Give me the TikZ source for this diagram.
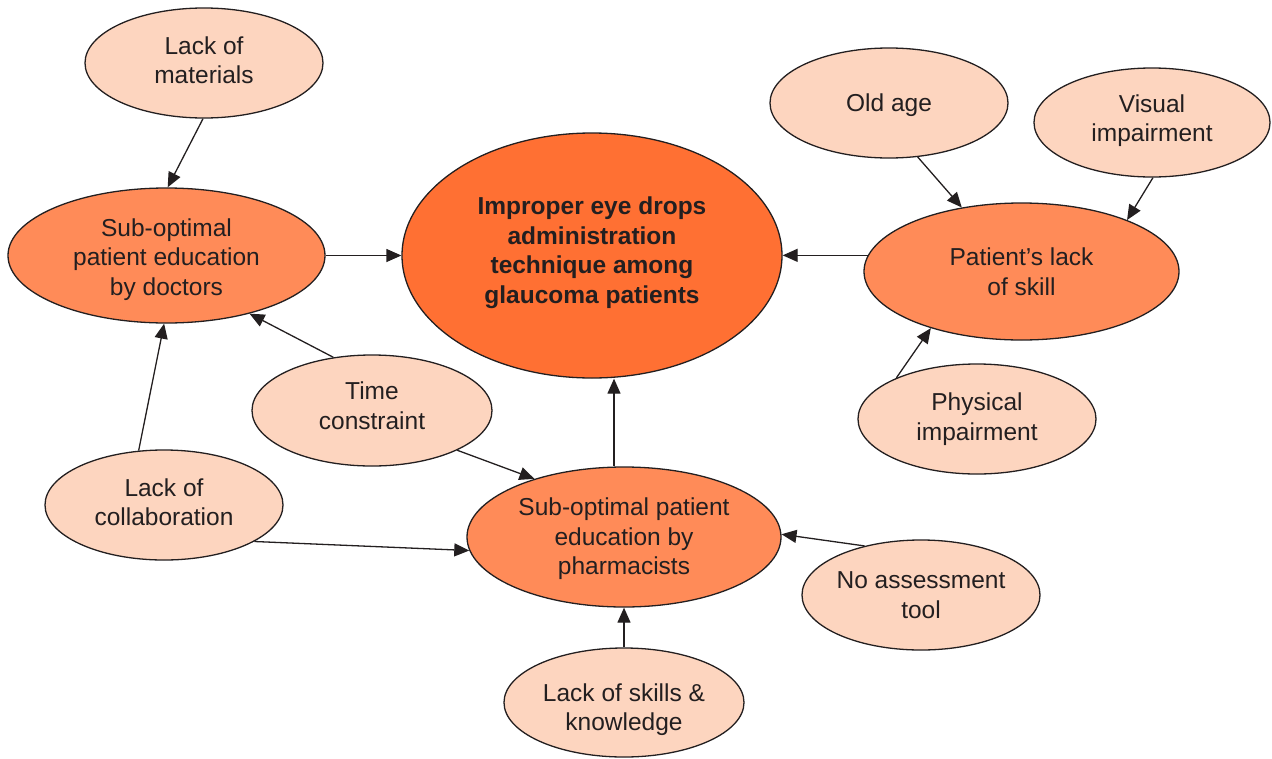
\documentclass[tikz,border=0pt]{standalone}
\usepackage{fontspec}
\setmainfont{Liberation Sans}
\usetikzlibrary{shapes.geometric,arrows.meta}
\definecolor{inkc}{HTML}{231F20}
\definecolor{lightfill}{HTML}{FDD5BF}
\definecolor{midfill}{HTML}{FF8B58}
\definecolor{corefill}{HTML}{FF7033}
\tikzset{
  bubble/.style={ellipse, draw=inkc, line width=1.3pt, inner sep=0pt},
  cause/.style={bubble, fill=lightfill},
  factor/.style={bubble, fill=midfill},
  core/.style={bubble, fill=corefill},
  txt/.style={align=center, text=inkc, font=\fontsize{24.5}{29.5}\selectfont},
  boldtxt/.style={txt, font=\bfseries\fontsize{24.5}{29.5}\selectfont},
  link/.style={draw=inkc, line width=1.3pt, -{Triangle[length=15pt,width=13pt]}}
}
\begin{document}
\begin{tikzpicture}[x=1pt,y=-1pt]
\useasboundingbox (0,0) rectangle (1272,758);

% central outcome
\node[core, minimum width=380pt, minimum height=245pt,
  label={[boldtxt,yshift=3pt]center:Improper eye drops\\administration\\technique among\\glaucoma patients}]
  (cen) at (592,255.5) {};

% intermediate factors
\node[factor, minimum width=317pt, minimum height=135pt,
  label={[txt,yshift=-4pt]center:Sub-optimal\\patient education\\by doctors}]
  (doc) at (166.5,255.5) {};
\node[factor, minimum width=315pt, minimum height=137pt,
  label={[txt]center:Patient’s lack\\of skill}]
  (pat) at (1021.5,271.5) {};
\node[factor, minimum width=314pt, minimum height=140pt,
  label={[txt,yshift=-2pt]center:Sub-optimal patient\\education by\\pharmacists}]
  (pha) at (624,537) {};

% root causes
\node[cause, minimum width=238pt, minimum height=110pt,
  label={[txt,yshift=3pt]center:Lack of\\materials}]
  (mat) at (204,63) {};
\node[cause, minimum width=240pt, minimum height=111pt,
  label={[txt,yshift=5pt]center:Time\\constraint}]
  (time) at (372,410.5) {};
\node[cause, minimum width=238pt, minimum height=110pt,
  label={[txt,yshift=3pt]center:Lack of\\collaboration}]
  (coll) at (164,505) {};
\node[cause, minimum width=240pt, minimum height=109pt,
  label={[txt,yshift=-7pt]center:Lack of skills \&\\knowledge}]
  (lsk) at (624,702.5) {};
\node[cause, minimum width=238pt, minimum height=110pt,
  label={[txt]center:No assessment\\tool}]
  (noa) at (921,595) {};
\node[cause, minimum width=238pt, minimum height=110pt,
  label={[txt,yshift=-2pt]center:Old age}]
  (old) at (889,103) {};
\node[cause, minimum width=236pt, minimum height=109pt,
  label={[txt,yshift=2pt]center:Visual\\impairment}]
  (vis) at (1152,122.5) {};
\node[cause, minimum width=238pt, minimum height=110pt,
  label={[txt]center:Physical\\impairment}]
  (phys) at (977,419) {};

% connectors
\draw[link] (mat.269) -- (doc.89);
\draw[link] (doc.east) -- (cen.west);
\draw[link] (time.126) -- (doc.325);
\draw[link] (coll.115) -- (doc.268);
\draw[link] (coll.338) -- (pha.185);
\draw[link] (time.335) -- (pha.147);
\draw[link] ([xshift=-10pt]pha.north) -- ([xshift=-10pt]pha.north |- cen.south);
\draw[link] (lsk.north) -- (pha.south);
\draw[link] (noa.139) -- (pha.1);
\draw[link] (pat.174) -- (pat.174 -| cen.east);
\draw[link] (old.298) -- (pat.133);
\draw[link] (vis.271) -- (pat.26);
\draw[link] (phys.153) -- (pat.212);
\end{tikzpicture}
\end{document}
